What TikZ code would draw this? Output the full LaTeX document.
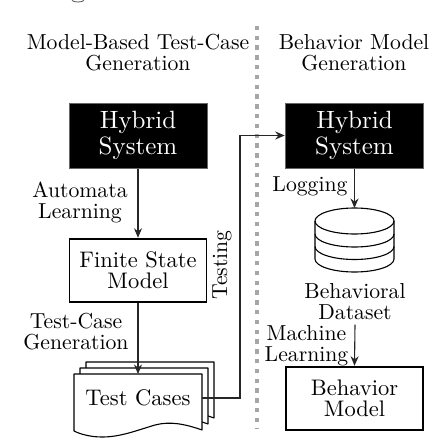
\documentclass[tikz,border=0pt]{standalone}
\usetikzlibrary{arrows.meta}
\tikzset{
 x=1pt,y=-1pt,
 txtbase/.style={inner sep=0pt,align=center},
 lbl/.style={txtbase,scale=2.17,font=\fontsize{10}{9.7}\selectfont},
 sysbox/.style={txtbase,scale=2.5,font=\fontsize{10}{8.9}\selectfont,fill=black,draw=black!60,line width=0.6pt,text=white,minimum width=55.2pt,minimum height=26pt},
 modelbox/.style={txtbase,scale=2.25,font=\fontsize{10}{9.4}\selectfont,draw=black,line width=1.1pt,fill=white,minimum width=60.9pt,minimum height=28pt},
 conn/.style={draw=black!85,line width=1.1pt,-{Stealth[length=9.5pt,width=8pt]}},
 doc/.style={draw=black,line width=1.1pt,fill=white,line join=round},
 cyl/.style={draw=black,line width=1.1pt},
 sep/.style={draw=black!35,line width=4.5pt,dash pattern=on 4.5pt off 5.3pt},
 docpath/.pic={\path[doc] (74,374) -- (202,374) -- (202,430) .. controls (185,424) and (170,421) .. (155,425)
  .. controls (135,431) and (120,437) .. (102,437) .. controls (90,437) and (80,434) .. (74,431) -- cycle;},
}
\begin{document}
\begin{tikzpicture}
\useasboundingbox (0,0) rectangle (430,438);
\draw[line width=0.8pt,black!70] (72,0.5) .. controls (75,2.5) and (81,2.5) .. (84,0.5);
\draw[sep] (257,25.75) -- (257,428);
\node[lbl] (t1) at (138,53) {Model-Based Test-Case\\Generation};
\node[lbl] (t2) at (354,53) {Behavior Model\\Generation};
\node[sysbox] (hs1) at (138,135.5) {Hybrid\\System};
\node[sysbox] (hs2) at (354.5,135.5) {Hybrid\\System};
\node[modelbox] (fsm) at (138,270.5) {Finite State\\Model};
\node[modelbox] (bm) at (354.5,398.5) {Behavior\\Model};
\node[lbl] (al) at (80,202) {Automata\\Learning};
\node[lbl] (tg) at (76,332) {Test-Case\\Generation};
\node[lbl,rotate=90] (tst) at (222,265) {Testing};
\node[lbl] (log) at (310,186) {Logging};
\node[lbl] (ds) at (355,302) {Behavioral\\Dataset};
\node[lbl] (ml) at (306.5,346) {Machine\\Learning};
% stacked documents
\pic at (12,-12) {docpath};
\pic at (6,-6) {docpath};
\pic at (0,0) {docpath};
\node[lbl,scale=1.04] (tc) at (138,398) {Test Cases};
\coordinate (tctop) at (138,374);
\coordinate (tcr) at (202,398);
\coordinate (bend) at (240,398);
\coordinate (bend2) at (240,135.5);
% cylinder
\coordinate (dbtop) at (354.5,208);
\draw[cyl,fill=white] (315,221) -- (315,259) arc[start angle=180,end angle=360,x radius=39.5pt,y radius=13pt] -- (394,221);
\draw[cyl] (315,234) arc[start angle=180,end angle=360,x radius=39.5pt,y radius=13pt];
\draw[cyl] (315,246.5) arc[start angle=180,end angle=360,x radius=39.5pt,y radius=13pt];
\draw[cyl] (354.5,221) ellipse[x radius=39.5pt,y radius=13pt];
% connectors
\draw[conn] (hs1.south) -- (fsm.north);
\draw[conn] (fsm.south) -- (tctop);
\draw[conn] (hs2.south) -- (dbtop);
\draw[conn] (ds.south) ++(0,4) -- (bm.north);
\draw[conn] (tcr) -- (bend) -- (bend2) -- (hs2.west);
\end{tikzpicture}
\end{document}
